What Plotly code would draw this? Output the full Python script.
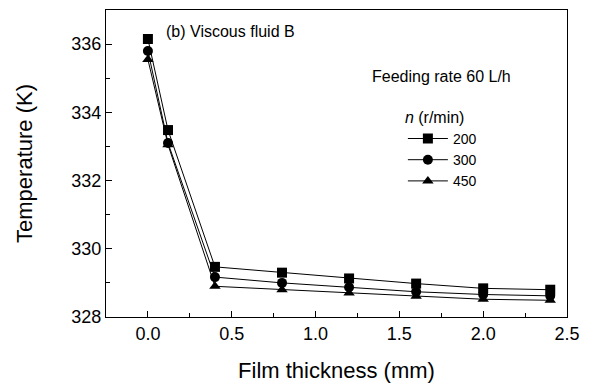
import plotly.graph_objects as go

thickness = [0.0, 0.12, 0.4, 0.8, 1.2, 1.6, 2.0, 2.4]
t_200 = [336.15, 333.48, 329.47, 329.30, 329.13, 328.98, 328.84, 328.80]
t_300 = [335.80, 333.10, 329.17, 329.00, 328.87, 328.74, 328.66, 328.62]
t_450 = [335.55, 333.05, 328.90, 328.80, 328.70, 328.61, 328.52, 328.49]
series = [("200", t_200, "square"), ("300", t_300, "circle"), ("450", t_450, "triangle-up")]

fig = go.Figure()
for name, ys, sym in series:
    fig.add_trace(go.Scatter(x=thickness, y=ys, name=name, mode="lines+markers",
                             line=dict(color="black", width=1),
                             marker=dict(symbol=sym, size=10, color="black")))

font = "Liberation Sans, Arial, sans-serif"
fig.update_layout(
    width=594, height=392,
    margin=dict(l=106, r=27, t=10, b=75),
    paper_bgcolor="white", plot_bgcolor="white",
    font=dict(family=font, size=18, color="black"),
    showlegend=True,
    legend=dict(x=0.644, y=0.70, xanchor="left", yanchor="top",
                bgcolor="rgba(0,0,0,0)", font=dict(family=font, size=14),
                title=dict(text="<i>n</i> (r/min)", font=dict(family=font, size=16)),
                tracegroupgap=0, itemwidth=40),
    annotations=[
        dict(text="(b) Viscous fluid B", x=0.125, y=0.965, xref="paper", yref="paper",
             xanchor="left", yanchor="top", showarrow=False, font=dict(size=16)),
        dict(text="Feeding rate 60 L/h", x=0.572, y=0.785, xref="paper", yref="paper",
             xanchor="left", yanchor="middle", showarrow=False, font=dict(size=16)),
    ],
)
fig.update_xaxes(range=[-0.25, 2.5], tickvals=[0, 0.5, 1.0, 1.5, 2.0, 2.5],
                 ticktext=["0.0", "0.5", "1.0", "1.5", "2.0", "2.5"],
                 ticks="inside", ticklen=6, tickcolor="black", showline=True, linecolor="black",
                 linewidth=1, mirror=True, showgrid=False, zeroline=False,
                 minor=dict(tickvals=[0.25, 0.75, 1.25, 1.75, 2.25], ticks="inside", ticklen=4, tickcolor="black"),
                 title=dict(text="Film thickness (mm)", standoff=20))
fig.update_yaxes(range=[328, 337], tickvals=[328, 330, 332, 334, 336],
                 ticks="inside", ticklen=6, tickcolor="black", showline=True, linecolor="black",
                 linewidth=1, mirror=True, showgrid=False, zeroline=False,
                 minor=dict(tickvals=[329, 331, 333, 335], ticks="inside", ticklen=4, tickcolor="black"),
                 title=dict(text="Temperature (K)", standoff=32))

fig.write_html("out.html")
